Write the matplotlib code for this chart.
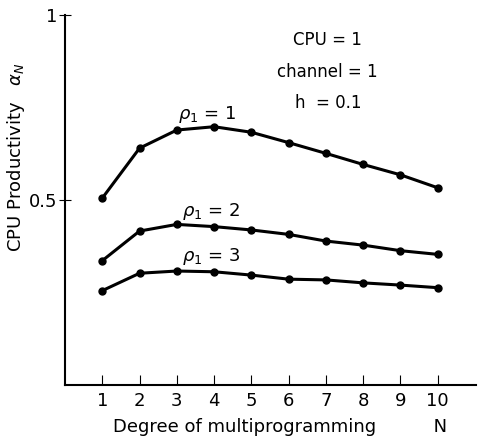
import matplotlib
matplotlib.use('Agg')
import matplotlib.pyplot as plt

# degree of multiprogramming N
n_values = [1, 2, 3, 4, 5, 6, 7, 8, 9, 10]

# CPU productivity alpha_N for rho_1 = 1, 2, 3
rho1_prod = [0.505, 0.640, 0.689, 0.698, 0.683, 0.655, 0.626, 0.596, 0.568, 0.533]
rho2_prod = [0.336, 0.416, 0.434, 0.428, 0.419, 0.407, 0.389, 0.378, 0.363, 0.353]
rho3_prod = [0.255, 0.302, 0.308, 0.306, 0.297, 0.286, 0.284, 0.276, 0.270, 0.263]

series_labels = [r'$\rho_1$ = 1', r'$\rho_1$ = 2', r'$\rho_1$ = 3']
label_pos = [(3.8, 0.73), (3.93, 0.468), (3.93, 0.346)]

y_ticks = [0.5, 1.0]
y_tick_labels = ['0.5', '1']

fig = plt.figure(figsize=(4.78, 4.40), dpi=100)
ax = fig.add_axes([0.136, 0.125, 0.86, 0.841])

for vals in [rho1_prod, rho2_prod, rho3_prod]:
    ax.plot(n_values, vals, color='black', linewidth=2.2, marker='o', markersize=5)

for lab, (lx, ly) in zip(series_labels, label_pos):
    ax.text(lx, ly, lab, fontsize=13, ha='center', va='center')

ax.text(7.05, 0.932, 'CPU = 1', fontsize=12, ha='center', va='center')
ax.text(7.05, 0.846, 'channel = 1', fontsize=12, ha='center', va='center')
ax.text(7.05, 0.762, 'h  = 0.1', fontsize=12, ha='center', va='center')

ax.set_xlim(0, 11.03)
ax.set_ylim(0, 1)
ax.set_xticks(n_values)
ax.set_yticks(y_ticks)
ax.set_yticklabels(y_tick_labels)
ax.tick_params(axis='x', direction='in', length=7, labelsize=13, pad=5)
ax.tick_params(axis='y', direction='inout', length=9, labelsize=13, pad=1)
ax.spines['top'].set_visible(False)
ax.spines['right'].set_visible(False)
ax.spines['left'].set_linewidth(1.5)
ax.spines['bottom'].set_linewidth(1.5)

ax.set_xlabel('Degree of multiprogramming          N', fontsize=13)
ax.set_ylabel(r'CPU Productivity   $\alpha_N$', fontsize=13)
ax.xaxis.set_label_coords(0.523, -0.089)
ax.yaxis.set_label_coords(-0.092, 0.616)

plt.savefig('out.png', format='png')
plt.close()
